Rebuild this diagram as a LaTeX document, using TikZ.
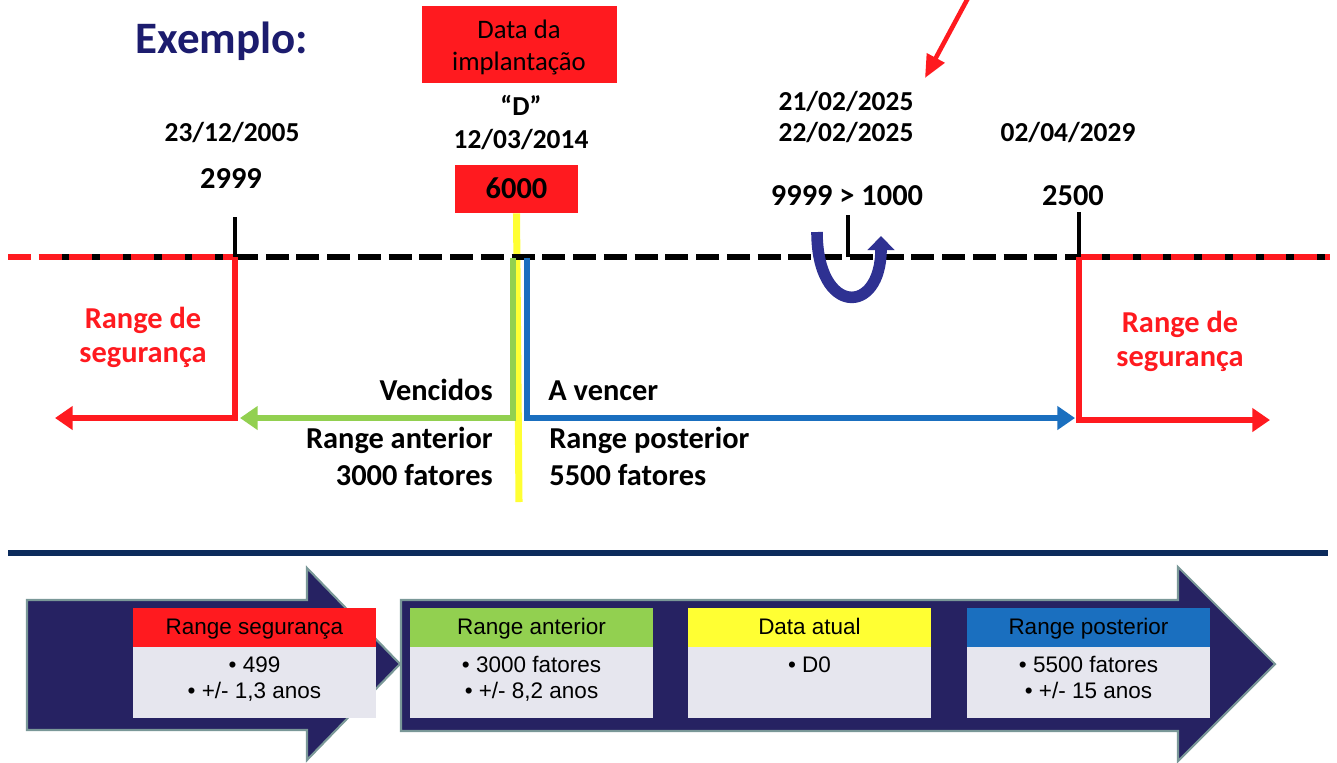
\documentclass[tikz,border=0pt]{standalone}
\usepackage{fontspec}
\setmainfont{Carlito}
\newfontfamily\arialfont{Liberation Sans}
\usepackage{tikz}
\usetikzlibrary{arrows}
\usetikzlibrary{arrows.meta}
\usetikzlibrary{positioning}
\definecolor{segred}{HTML}{FF1A1F}
\definecolor{antgreen}{HTML}{92D050}
\definecolor{postblue}{HTML}{1A6FBF}
\definecolor{nowyellow}{HTML}{FFFF33}
\definecolor{titlenavy}{HTML}{1C1C6E}
\definecolor{turnnavy}{HTML}{2E3192}
\definecolor{arrownavy}{HTML}{262262}
\definecolor{arrowedge}{HTML}{7A9898}
\definecolor{rulenavy}{HTML}{0C2B5C}
\definecolor{cardgray}{HTML}{E6E6EE}
\tikzset{
date label/.style = { font = \fontsize{15.6}{17}\selectfont\bfseries, anchor = base, inner sep = 0pt },
value label/.style = { font = \fontsize{17.3}{19}\selectfont\bfseries, anchor = base, inner sep = 0pt },
range label/.style = { font = \fontsize{17.3}{19}\selectfont\bfseries, anchor = base, inner sep = 0pt },
box label/.style = { font = \fontsize{15.2}{17}\selectfont, anchor = base, inner sep = 0pt },
red box/.style = { rectangle, fill = segred, inner sep = 0pt },
timeline/.style = { line width = 3.4pt, dash pattern = on 13pt off 4.5pt },
tick/.style = { line width = 2.4pt },
range arrow/.style = { line width = 3.2pt, -{Triangle[length = 10pt, width = 13pt]} },
card arrow/.style = { fill = arrownavy, draw = arrowedge, line width = 1.2pt },
card head/.style = { font = \arialfont\fontsize{12.8}{14}\selectfont, anchor = base, inner sep = 0pt },
card body/.style = { font = \arialfont\fontsize{12.8}{14}\selectfont, anchor = base, inner sep = 0pt },
}
\tikzset{
pics/card/.style args={#1, #2, #3, #4}{
        code = {
        \path[fill = #2] (0, 0) rectangle (243, 39);
        \path[fill = cardgray] (0, 39) rectangle (243, 110);
        \node[card head] (-head) at (121.5, 26) {#1};
        \node[card body] (-first) at (121.5, 64) {#3};
        \node[card body] (-second) at (121.5, 90) {#4};
        }
    }
}

\begin{document}
\begin{tikzpicture}[x = 0.02cm, y = -0.02cm]
    \useasboundingbox (0, 0) rectangle (1337, 762);
    % title and implantation date
    \node[font = \fontsize{25.6}{28}\selectfont\bfseries, text = titlenavy, anchor = base, inner sep = 0pt] (title) at (222, 53) {Exemplo:};
    \path[fill = segred] (422, 6) rectangle (617, 83);
    \node[box label] (implA) at (519, 38) {Data da};
    \node[box label] (implB) at (519, 70) {implantação};
    \node[date label] (dquote) at (521, 115) {“D”};
    \node[date label] (ddate) at (521, 148) {12/03/2014};
    \node[red box, minimum width = 123 * 0.02cm, minimum height = 48 * 0.02cm] (v6000) at (516.5, 189) {};
    \node[value label] (v6000 text) at (516.5, 198) {6000};
    % other dates and values
    \node[date label] (d2005) at (232, 141) {23/12/2005};
    \node[value label] (v2999) at (231, 188) {2999};
    \node[date label] (d2025a) at (846, 110) {21/02/2025};
    \node[date label] (d2025b) at (846, 141) {22/02/2025};
    \node[value label] (v9999) at (847, 205) {9999 > 1000};
    \node[date label] (d2029) at (1068, 141) {02/04/2029};
    \node[value label] (v2500) at (1073, 205) {2500};
    % callout arrow
    \coordinate (callout) at (968, -2);
    \coordinate (callout tip) at (925, 78);
    \draw[segred, line width = 2.6pt, -{Triangle[length = 13pt, width = 11pt]}] (callout) -- (callout tip);
    % timeline
    \coordinate (tl west) at (0, 257);
    \coordinate (tl east) at (1337, 257);
    \coordinate (t2999) at (235, 257);
    \coordinate (tturn) at (848, 257);
    \coordinate (t2500) at (1079, 257);
    \coordinate (yellow end) at (519, 502);
    \draw[nowyellow, line width = 4pt] (v6000.south) -- (yellow end);
    \draw[timeline] (t2999) -- (t2500);
    \draw[line width = 3.4pt] (60, 257) -- (t2999);
    \draw[line width = 3.4pt] (t2500) -- (1330, 257);
    \draw[timeline, segred, dash pattern = on 13pt off 4.5pt] (8, 257) -- (t2999);
    \draw[timeline, segred, dash pattern = on 13pt off 4.5pt] (t2500) -- (1330, 257);
    \draw[tick] (t2999) -- ++(0, -40);
    \draw[tick] (tturn) -- ++(0, -42);
    \draw[tick] (t2500) -- ++(0, -45);
    % ranges
    \coordinate (seg west) at (55, 418);
    \coordinate (ant end) at (240, 418);
    \coordinate (post end) at (1075, 418);
    \coordinate (seg east) at (1270, 420);
    \draw[range arrow, segred] (t2999) |- (seg west);
    \draw[range arrow, antgreen] (513, 258) |- (ant end);
    \draw[range arrow, postblue] (527, 258) |- (post end);
    \draw[range arrow, segred] (t2500) |- (seg east);
    \draw[turnnavy, line width = 6.6pt, -{Triangle[length = 8pt, width = 15pt]}] (817, 232) .. controls (817, 316) and (881, 316) .. (881, 236);
    \node[range label, text = segred] (segLa) at (143, 328) {Range de};
    \node[range label, text = segred] (segLb) at (143, 362) {segurança};
    \node[range label, text = segred] (segRa) at (1180, 332) {Range de};
    \node[range label, text = segred] (segRb) at (1180, 366) {segurança};
    \node[range label, anchor = base east] (venc) at (493, 400) {Vencidos};
    \node[range label, anchor = base west] (avenc) at (548, 400) {A vencer};
    \node[range label, anchor = base east] (antA) at (493, 448) {Range anterior};
    \node[range label, anchor = base east] (antB) at (493, 485) {3000 fatores};
    \node[range label, anchor = base west] (postA) at (549, 448) {Range posterior};
    \node[range label, anchor = base west] (postB) at (549, 485) {5500 fatores};
    % summary
    \draw[rulenavy, line width = 3pt] (8, 553) -- (1328, 553);
    \draw[card arrow] (27, 600) -- (307, 600) -- (307, 568) -- (400, 664) -- (307, 760) -- (307, 730) -- (27, 730) -- cycle;
    \draw[card arrow] (401, 600) -- (1178, 600) -- (1178, 567) -- (1275, 664) -- (1178, 761) -- (1178, 731) -- (401, 731) -- cycle;
    \draw (133, 608) pic (segcard) {card = {Range segurança, segred, {\textbullet\ 499}, {\textbullet\ +/- 1,3 anos}}};
    \draw (410, 608) pic (antcard) {card = {Range anterior, antgreen, {\textbullet\ 3000 fatores}, {\textbullet\ +/- 8,2 anos}}};
    \draw (688, 608) pic (nowcard) {card = {Data atual, nowyellow, {\textbullet\ D0}, {}}};
    \draw (967, 608) pic (postcard) {card = {Range posterior, postblue, {\textbullet\ 5500 fatores}, {\textbullet\ +/- 15 anos}}};
\end{tikzpicture}
\end{document}
